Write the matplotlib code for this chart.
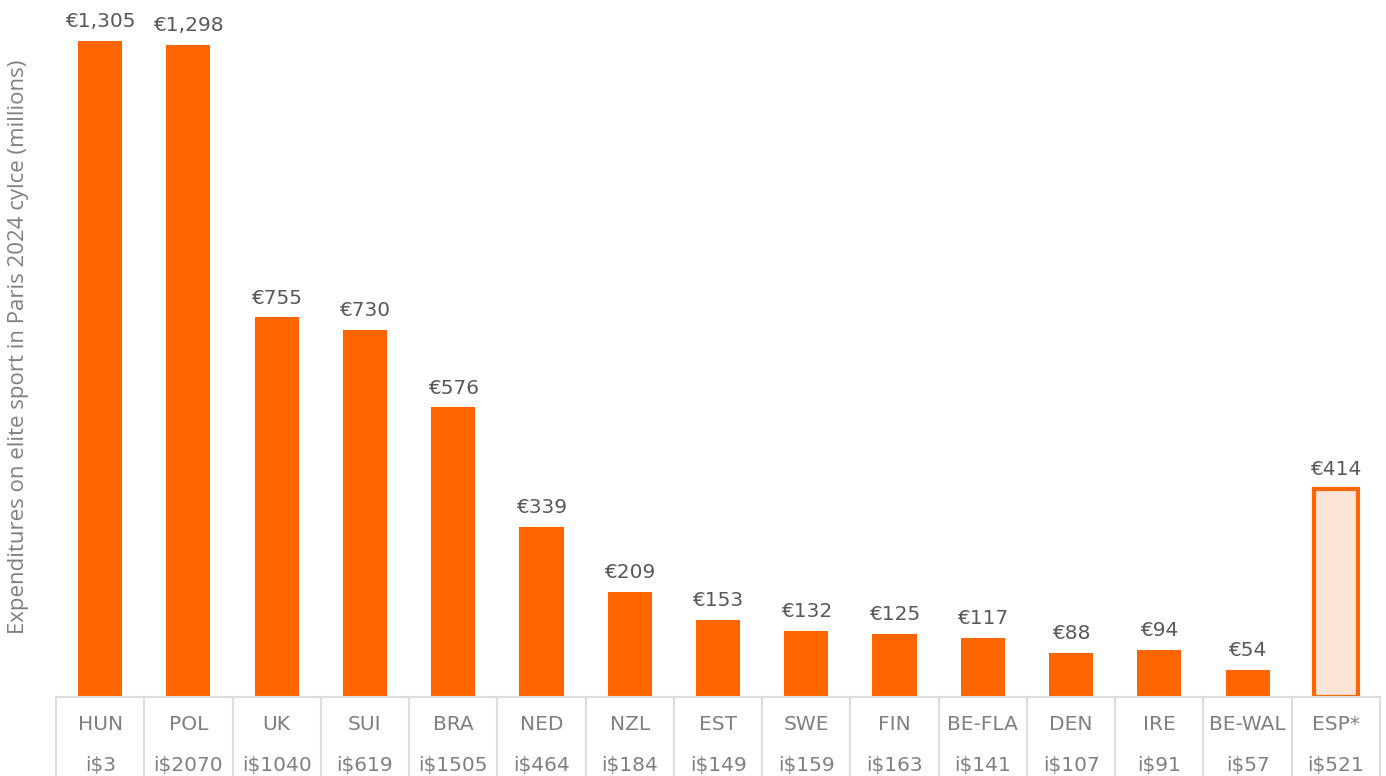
import numpy as np
import matplotlib.pyplot as plt
import matplotlib.transforms as mtransforms

# Данные
countries = ['HUN', 'POL', 'UK', 'SUI', 'BRA', 'NED', 'NZL', 'EST', 'SWE', 'FIN',
             'BE-FLA', 'DEN', 'IRE', 'BE-WAL', 'ESP*']
spend = [1305, 1298, 755, 730, 576, 339, 209, 153, 132, 125, 117, 88, 94, 54, 414]
spend_labels = ['€1,305', '€1,298', '€755', '€730', '€576', '€339', '€209', '€153',
                '€132', '€125', '€117', '€88', '€94', '€54', '€414']
isd_labels = ['i$3', 'i$2070', 'i$1040', 'i$619', 'i$1505', 'i$464', 'i$184', 'i$149',
              'i$159', 'i$163', 'i$141', 'i$107', 'i$91', 'i$57', 'i$521']

orange = '#FF6600'
light = '#FCE4D6'
grid_c = '#DDDDDD'
txt_c = '#808080'

W, H = 1386, 776
fig = plt.figure(figsize=(W / 100, H / 100), dpi=100)
ax = fig.add_axes([56 / W, 1 - 697 / H, (1380 - 56) / W, (697 - 8) / H])

x = np.arange(len(countries))
colors = [orange] * (len(countries) - 1) + [light]
bars = ax.bar(x, spend, width=0.5, color=colors, zorder=2)
bars[-1].set_edgecolor(orange)
bars[-1].set_linewidth(3)

for xi, v, lab in zip(x, spend, spend_labels):
    ax.annotate(lab, (xi, v), xytext=(0, 7), textcoords='offset points',
                ha='center', va='bottom', fontsize=14.5, color='#595959')

ax.set_xlim(-0.5, len(countries) - 0.5)
ax.set_ylim(0, (697 - 8) / (656 / 1305))
ax.set_xticks([])
ax.set_yticks([])
for s in ax.spines.values():
    s.set_visible(False)

# таблица под осью
tr = mtransforms.blended_transform_factory(ax.transData, fig.transFigure)
y_base = 1 - 697 / H
ax.plot([-0.5, len(countries) - 0.5], [y_base, y_base], color=grid_c, lw=1.5,
        transform=tr, clip_on=False)
for k in range(len(countries) + 1):
    ax.plot([k - 0.5, k - 0.5], [y_base, 0], color=grid_c, lw=1.5,
            transform=tr, clip_on=False)
for xi, c, i in zip(x, countries, isd_labels):
    ax.text(xi, 1 - 725 / H, c, transform=tr, ha='center', va='center',
            fontsize=14.5, color=txt_c)
    ax.text(xi, 1 - 765 / H, i, transform=tr, ha='center', va='center',
            fontsize=14.5, color=txt_c)

fig.text(19 / W, 1 - 347 / H, 'Expenditures on elite sport in Paris 2024 cylce (millions)',
         rotation=90, ha='center', va='center', fontsize=16, color=txt_c,
         family='Open Sans')

fig.savefig('out.png', dpi=100)
